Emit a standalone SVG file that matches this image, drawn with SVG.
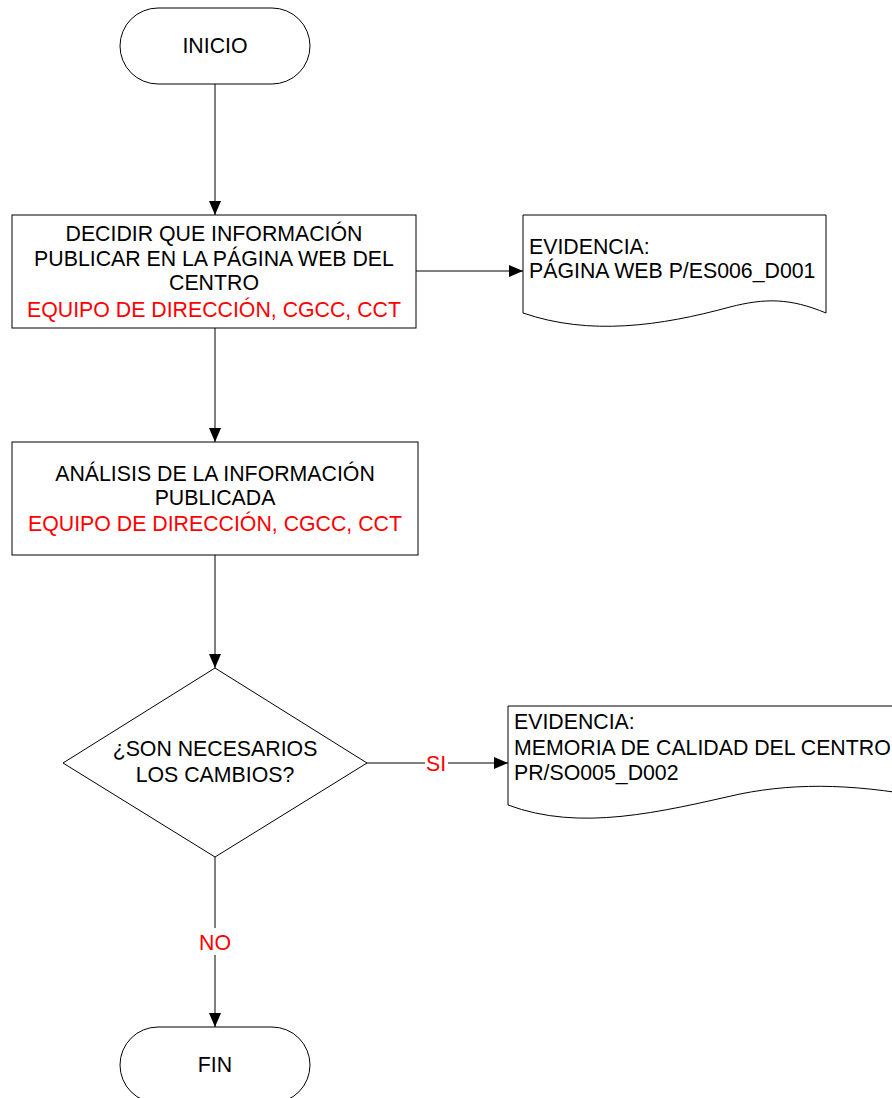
<svg xmlns="http://www.w3.org/2000/svg" width="892" height="1098" viewBox="0 0 892 1098">
<defs>
<marker id="arr" viewBox="0 0 14 12" refX="14" refY="6" markerWidth="14" markerHeight="12" markerUnits="userSpaceOnUse" orient="auto">
<path d="M0,0 L14,6 L0,12 Z" fill="#000"/>
</marker>
<style>
.sh{fill:#fff;stroke:#000;stroke-width:1}
.t{font-family:"Liberation Sans",Arial,sans-serif;font-size:21.3px;fill:#000}
.c{text-anchor:middle}
.r{fill:#ff0000}
.ln{fill:none;stroke:#000;stroke-width:1}
</style>
</defs>
<rect width="892" height="1098" fill="#fff"/>
<g id="connectors">
<line class="ln" x1="215" y1="84" x2="215" y2="215" marker-end="url(#arr)"/>
<line class="ln" x1="416" y1="271" x2="523" y2="271" marker-end="url(#arr)"/>
<line class="ln" x1="215" y1="328" x2="215" y2="442" marker-end="url(#arr)"/>
<line class="ln" x1="215" y1="555" x2="215" y2="668" marker-end="url(#arr)"/>
<line class="ln" x1="367" y1="763" x2="425" y2="763"/>
<line class="ln" x1="448" y1="763" x2="508" y2="763" marker-end="url(#arr)"/>
<text class="t c r" x="436" y="771">SI</text>
<line class="ln" x1="215" y1="857" x2="215" y2="928"/>
<line class="ln" x1="215" y1="955" x2="215" y2="1027" marker-end="url(#arr)"/>
<text class="t c r" x="215" y="950">NO</text>
</g>
<g id="inicio">
<rect class="sh" x="120" y="8" width="190" height="76" rx="38" ry="38"/>
<text class="t c" x="215" y="53">INICIO</text>
</g>
<g id="decidir">
<rect class="sh" x="12" y="215" width="404" height="113"/>
<text class="t c" x="214" y="241">DECIDIR QUE INFORMACIÓN</text>
<text class="t c" x="214" y="266">PUBLICAR EN LA PÁGINA WEB DEL</text>
<text class="t c" x="214" y="290">CENTRO</text>
<text class="t c r" x="214" y="317">EQUIPO DE DIRECCIÓN, CGCC, CCT</text>
</g>
<g id="evidencia1">
<path class="sh" d="M523,215 H826 V313 C790,298 765,298 730,307 C660,326 590,336 523,313 Z"/>
<text class="t" x="529" y="254">EVIDENCIA:</text>
<text class="t" x="529" y="278">PÁGINA WEB P/ES006_D001</text>
</g>
<g id="analisis">
<rect class="sh" x="12" y="442" width="406" height="113"/>
<text class="t c" x="215" y="481">ANÁLISIS DE LA INFORMACIÓN</text>
<text class="t c" x="215" y="505">PUBLICADA</text>
<text class="t c r" x="215" y="531">EQUIPO DE DIRECCIÓN, CGCC, CCT</text>
</g>
<g id="decision">
<polygon class="sh" points="215,668 367,763 215,857 63,763"/>
<text class="t c" x="215" y="756">¿SON NECESARIOS</text>
<text class="t c" x="215" y="782">LOS CAMBIOS?</text>
</g>
<g id="evidencia2">
<path class="sh" d="M508,706 H940 V800 C860,784 800,782 740,794 C660,812 580,832 508,805 Z"/>
<text class="t" x="514" y="729">EVIDENCIA:</text>
<text class="t" x="514" y="755">MEMORIA DE CALIDAD DEL CENTRO</text>
<text class="t" x="514" y="780">PR/SO005_D002</text>
</g>
<g id="fin">
<rect class="sh" x="120" y="1027" width="190" height="76" rx="38" ry="38"/>
<text class="t c" x="215" y="1072">FIN</text>
</g>
</svg>
